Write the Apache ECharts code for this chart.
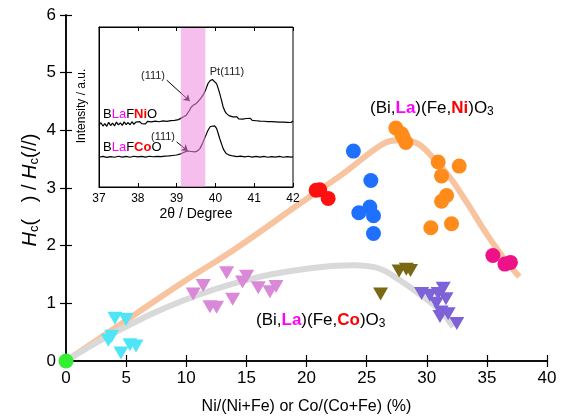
<!DOCTYPE html>
<html>
<head>
<meta charset="utf-8">
<script src="https://cdn.jsdelivr.net/npm/echarts@6/dist/echarts.min.js"></script>
<style>
  html, body { margin: 0; padding: 0; background: #fff; }
  #chart { width: 566px; height: 420px; }
</style>
</head>
<body>
<div id="chart"></div>
<script>
// main plot data: [x %, Hc ratio]
var xTicks = [0, 5, 10, 15, 20, 25, 30, 35, 40];
var yTicks = [0, 1, 2, 3, 4, 5, 6];
var niRed = [[20.8, 2.96], [21.1, 2.97], [21.8, 2.82]];
var niBlue = [[23.9, 3.64], [25.35, 3.13], [24.35, 2.57], [25.27, 2.67], [25.57, 2.52], [25.57, 2.21]];
var niOrange = [[27.43, 4.04], [27.9, 3.94], [28.04, 3.88], [28.26, 3.79], [30.95, 3.45], [32.7, 3.38],
  [31.23, 3.21], [31.65, 2.87], [31.23, 2.77], [32.06, 2.38], [30.34, 2.31]];
var niPink = [[35.5, 1.83], [36.5, 1.68], [36.96, 1.71]];
var bfo = [[0, 0]];
var coCyan = [[4.07, 0.74], [4.99, 0.72], [3.8, 0.43], [3.52, 0.36], [4.57, 0.14], [5.32, 0.28], [5.82, 0.26]];
var coOrchid = [[10.58, 1.16], [11.41, 1.31], [13.36, 1.53], [15.02, 1.47], [14.68, 1.37], [13.86, 1.07],
  [11.97, 0.94], [12.52, 0.93], [15.99, 1.27], [16.96, 1.2], [17.46, 1.29]];
var coOlive = [[27.7, 1.56], [28.3, 1.59], [28.65, 1.57], [26.16, 1.16]];
var coPurple = [[29.57, 1.17], [30.26, 1.14], [30.95, 1.17], [31.37, 1.26], [31.6, 1.08], [30.8, 1.0],
  [31.2, 0.85], [31.78, 0.82], [31.1, 0.77], [32.5, 0.65]];
var niGuide = [[0, 0], [4.2, 0.59], [9.75, 1.37], [13.9, 1.92], [19.45, 2.73], [23.05, 3.25], [26.4, 3.77],
  [27.76, 3.83], [29.15, 3.78], [30.5, 3.53], [31.9, 3.19], [33.3, 2.76], [34.96, 2.21], [36.35, 1.8], [37.7, 1.46]];
var coGuide = [[0, 0], [4.2, 0.51], [9.75, 1.05], [15.3, 1.42], [20, 1.6], [23.9, 1.66], [26.1, 1.6],
  [27.76, 1.4], [29.15, 1.2], [31.1, 0.88], [32.2, 0.59]];

// inset XRD: [2theta, intensity a.u.]
var insetTicks = [37, 38, 39, 40, 41, 42];
var xrdNi = [[37.0, 38.6], [37.05, 40.2], [37.1, 38.1], [37.15, 39.6], [37.2, 37.9], [37.25, 40.4], [37.3, 38.4],
  [37.35, 39.9], [37.4, 38.2], [37.45, 40.6], [37.5, 38.8], [37.55, 40.1], [37.6, 38.5], [37.65, 40.7],
  [37.7, 39.0], [37.75, 40.3], [37.8, 38.9], [37.85, 40.8], [37.9, 39.2], [37.95, 40.5], [38.0, 39.3],
  [38.05, 40.9], [38.1, 39.6], [38.15, 40.4], [38.2, 39.5], [38.25, 41.0], [38.3, 39.8], [38.35, 40.7],
  [38.4, 39.9], [38.45, 41.2], [38.5, 40.1], [38.55, 40.8], [38.6, 40.2], [38.65, 41.3], [38.7, 40.4],
  [38.75, 41.0], [38.8, 40.6], [38.85, 41.5], [38.9, 40.9], [38.95, 41.6], [39.0, 41.4], [39.05, 42.1],
  [39.1, 42.8], [39.18, 43.9], [39.25, 44.9], [39.32, 47.5], [39.38, 50.0], [39.45, 51.5], [39.51, 52.2],
  [39.58, 54.2], [39.64, 56.0], [39.7, 58.2], [39.74, 60.1], [39.78, 62.8], [39.81, 64.7], [39.86, 66.4],
  [39.92, 67.2], [39.97, 66.8], [40.03, 64.6], [40.07, 61.8], [40.11, 58.5], [40.16, 54.0], [40.2, 50.0],
  [40.24, 47.6], [40.28, 46.0], [40.35, 44.6], [40.45, 43.8], [40.5, 43.0], [40.55, 43.9], [40.6, 42.6],
  [40.65, 43.4], [40.7, 42.4], [40.75, 43.2], [40.8, 42.8], [40.85, 41.9], [40.9, 42.9], [40.95, 41.6],
  [41.0, 42.5], [41.05, 41.4], [41.1, 42.3], [41.15, 41.2], [41.2, 42.2], [41.25, 41.1], [41.3, 42.0],
  [41.35, 40.9], [41.4, 41.9], [41.45, 40.8], [41.5, 41.8], [41.55, 40.7], [41.6, 41.6], [41.65, 40.6],
  [41.7, 41.7], [41.75, 40.5], [41.8, 41.5], [41.85, 40.4], [41.9, 41.4], [41.95, 40.3], [42.0, 41.2]];
var xrdCo = [[37.0, 18.6], [37.1, 19.1], [37.2, 18.5], [37.3, 19.0], [37.4, 18.6], [37.5, 19.2], [37.6, 18.7],
  [37.7, 19.1], [37.8, 18.6], [37.9, 19.2], [38.0, 18.8], [38.1, 19.1], [38.2, 18.7], [38.3, 19.2],
  [38.4, 18.9], [38.5, 19.2], [38.6, 19.0], [38.7, 19.3], [38.8, 19.4], [38.9, 19.7], [39.0, 20.0],
  [39.08, 20.5], [39.18, 21.6], [39.29, 22.5], [39.38, 22.2], [39.47, 21.9], [39.54, 22.6], [39.6, 24.0],
  [39.66, 26.8], [39.72, 30.3], [39.77, 33.2], [39.81, 35.5], [39.87, 37.8], [39.92, 38.6], [39.98, 38.2],
  [40.03, 36.6], [40.07, 33.6], [40.11, 30.3], [40.16, 26.8], [40.2, 24.0], [40.24, 22.2], [40.28, 20.9],
  [40.36, 19.9], [40.45, 19.4], [40.55, 19.0], [40.65, 19.3], [40.75, 18.8], [40.85, 19.2], [40.95, 18.7],
  [41.05, 19.1], [41.15, 18.7], [41.25, 19.1], [41.35, 18.6], [41.45, 19.0], [41.55, 18.7], [41.65, 19.1],
  [41.75, 18.6], [41.85, 19.0], [41.95, 18.7], [42.0, 18.9]];
var band = [[39.11, 100], [39.74, 100]];

var FONT = 'Liberation Sans';
var chart = echarts.init(document.getElementById('chart'));

function dots(data, color) {
  return { type: 'scatter', data: data, symbol: 'circle', symbolSize: 15, clip: false, z: 4,
    itemStyle: { color: color, opacity: 1 } };
}
function tris(data, color) {
  return { type: 'scatter', data: data, symbol: 'triangle', symbolSize: [15, 13], symbolRotate: 180,
    clip: false, z: 4, itemStyle: { color: color, opacity: 1 } };
}

var boxAxis = {
  axisLine: { show: true, lineStyle: { color: '#000', width: 1.5 } },
  axisTick: { show: true, inside: true, length: 6, lineStyle: { color: '#000', width: 1.2 } },
  splitLine: { show: false }
};

chart.setOption({
  backgroundColor: '#fff',
  animation: false,
  grid: [
    { left: 66, right: 19, top: 15, bottom: 59 },
    { left: 99, top: 27, width: 194, height: 160, show: true, backgroundColor: '#fff',
      borderColor: '#000', borderWidth: 1, z: 3 }
  ],
  xAxis: [
    Object.assign({ type: 'value', gridIndex: 0, min: 0, max: 40, interval: 5,
      axisLabel: { color: '#000', fontSize: 17, fontFamily: FONT, margin: 9 },
      name: 'Ni/(Ni+Fe) or Co/(Co+Fe) (%)', nameLocation: 'middle', nameGap: 38,
      nameTextStyle: { color: '#000', fontSize: 16, fontFamily: FONT } }, boxAxis),
    Object.assign({ type: 'value', gridIndex: 0, min: 0, max: 40, interval: 5, position: 'top',
      axisLabel: { show: false } }, boxAxis),
    { type: 'value', gridIndex: 1, min: 37, max: 42, interval: 1, z: 8,
      axisLine: { show: true, lineStyle: { color: '#000', width: 1 } },
      axisTick: { show: true, inside: true, length: 4, lineStyle: { color: '#000' } },
      splitLine: { show: false },
      axisLabel: { color: '#000', fontSize: 12, fontFamily: FONT, margin: 6 },
      name: '2θ / Degree', nameLocation: 'middle', nameGap: 20,
      nameTextStyle: { color: '#000', fontSize: 14, fontFamily: FONT } },
    { type: 'value', gridIndex: 1, min: 37, max: 42, interval: 1, position: 'top', z: 8,
      axisLine: { show: true, lineStyle: { color: '#000', width: 1 } },
      axisTick: { show: true, inside: true, length: 4, lineStyle: { color: '#000' } },
      splitLine: { show: false }, axisLabel: { show: false } }
  ],
  yAxis: [
    Object.assign({ type: 'value', gridIndex: 0, min: 0, max: 6, interval: 1,
      axisLabel: { color: '#000', fontSize: 17, fontFamily: FONT, margin: 10 } }, boxAxis),
    Object.assign({ type: 'value', gridIndex: 0, min: 0, max: 6, interval: 1, position: 'right',
      axisLabel: { show: false } }, boxAxis),
    { type: 'value', gridIndex: 1, min: 0, max: 100, z: 8,
      axisLine: { show: true, lineStyle: { color: '#000', width: 1 } },
      axisTick: { show: false }, splitLine: { show: false }, axisLabel: { show: false } }
  ],
  series: [
    { type: 'line', xAxisIndex: 0, yAxisIndex: 0, data: niGuide, smooth: 0.4, symbol: 'none', z: 2,
      lineStyle: { color: '#f8c4a0', width: 6 } },
    { type: 'line', xAxisIndex: 0, yAxisIndex: 0, data: coGuide, smooth: 0.4, symbol: 'none', z: 2,
      lineStyle: { color: '#d9d9d9', width: 6 } },
    dots(niRed, '#ff1010'),
    dots(niBlue, '#2070ff'),
    dots(niOrange, '#ff8c1a'),
    dots(niPink, '#ee1188'),
    dots(bfo, '#33ee33'),
    tris(coCyan, '#4ee6f6'),
    tris(coOrchid, '#da88d8'),
    tris(coOlive, '#7a6812'),
    tris(coPurple, '#7d62d8'),
    { type: 'line', xAxisIndex: 2, yAxisIndex: 2, data: xrdNi, symbol: 'none', z: 6,
      lineStyle: { color: '#000', width: 1.2 },
      markLine: { silent: true, symbol: ['none', 'arrow'], symbolSize: 6, label: { show: false },
        lineStyle: { color: '#000', width: 1, type: 'solid' },
        data: [
          [{ coord: [38.745, 66.8] }, { coord: [39.34, 53.7] }],
          [{ coord: [39.0, 28.2] }, { coord: [39.29, 22.5] }]
        ] } },
    { type: 'line', xAxisIndex: 2, yAxisIndex: 2, data: xrdCo, symbol: 'none', z: 6,
      lineStyle: { color: '#000', width: 1.2 } },
    // pink 2theta window drawn over the patterns
    { type: 'line', xAxisIndex: 2, yAxisIndex: 2, data: band, symbol: 'none', z: 7,
      lineStyle: { width: 0, opacity: 0 },
      areaStyle: { color: 'rgba(239,137,220,0.55)', opacity: 1 } }
  ],
  graphic: [
    { type: 'text', x: 30, y: 190, rotation: Math.PI / 2, z: 10,
      style: { text: '{h|H}{s|c}{n|(   ) / }{h|H}{s|c}{n|(//)}', align: 'center', verticalAlign: 'middle',
        fill: '#000', font: '20px ' + FONT,
        rich: {
          h: { fontSize: 20, fontStyle: 'italic', fontFamily: FONT, fill: '#000' },
          s: { fontSize: 13, fontFamily: FONT, fill: '#000', padding: [8, 0, 0, 0] },
          n: { fontSize: 20, fontFamily: FONT, fill: '#000' }
        } } },
    { type: 'text', x: 370, y: 108, z: 10,
      style: { text: '{n|(Bi,}{m|La}{n|)(Fe,}{r|Ni}{n|)O}{s|3}', verticalAlign: 'middle',
        rich: {
          n: { fontSize: 17, fontFamily: FONT, fill: '#000' },
          m: { fontSize: 17, fontFamily: FONT, fill: '#ff00ff', fontWeight: 'bold' },
          r: { fontSize: 17, fontFamily: FONT, fill: '#ff0000', fontWeight: 'bold' },
          s: { fontSize: 12, fontFamily: FONT, fill: '#000', padding: [8, 0, 0, 0] }
        } } },
    { type: 'text', x: 256, y: 320, z: 10,
      style: { text: '{n|(Bi,}{m|La}{n|)(Fe,}{r|Co}{n|)O}{s|3}', verticalAlign: 'middle',
        rich: {
          n: { fontSize: 17, fontFamily: FONT, fill: '#000' },
          m: { fontSize: 17, fontFamily: FONT, fill: '#ff00ff', fontWeight: 'bold' },
          r: { fontSize: 17, fontFamily: FONT, fill: '#ff0000', fontWeight: 'bold' },
          s: { fontSize: 12, fontFamily: FONT, fill: '#000', padding: [8, 0, 0, 0] }
        } } },
    { type: 'text', x: 82, y: 106, rotation: Math.PI / 2, z: 10,
      style: { text: 'Intensity / a.u.', align: 'center', verticalAlign: 'middle',
        fill: '#000', font: '12px ' + FONT } },
    { type: 'text', x: 103, y: 114, z: 10,
      style: { text: '{n|B}{m|La}{n|F}{r|Ni}{n|O}', verticalAlign: 'middle',
        rich: {
          n: { fontSize: 13, fontFamily: FONT, fill: '#000' },
          m: { fontSize: 13, fontFamily: FONT, fill: '#ff00ff' },
          r: { fontSize: 13, fontFamily: FONT, fill: '#ff0000', fontWeight: 'bold' }
        } } },
    { type: 'text', x: 103, y: 147, z: 10,
      style: { text: '{n|B}{m|La}{n|F}{r|Co}{n|O}', verticalAlign: 'middle',
        rich: {
          n: { fontSize: 13, fontFamily: FONT, fill: '#000' },
          m: { fontSize: 13, fontFamily: FONT, fill: '#ff00ff' },
          r: { fontSize: 13, fontFamily: FONT, fill: '#ff0000', fontWeight: 'bold' }
        } } },
    { type: 'text', x: 153, y: 76, z: 10,
      style: { text: '(111)', align: 'center', verticalAlign: 'middle', fill: '#222', font: '11px ' + FONT } },
    { type: 'text', x: 227, y: 72, z: 10,
      style: { text: 'Pt(111)', align: 'center', verticalAlign: 'middle', fill: '#222', font: '11px ' + FONT } },
    { type: 'text', x: 163, y: 137, z: 10,
      style: { text: '(111)', align: 'center', verticalAlign: 'middle', fill: '#222', font: '11px ' + FONT } }
  ]
});
</script>
</body>
</html>
